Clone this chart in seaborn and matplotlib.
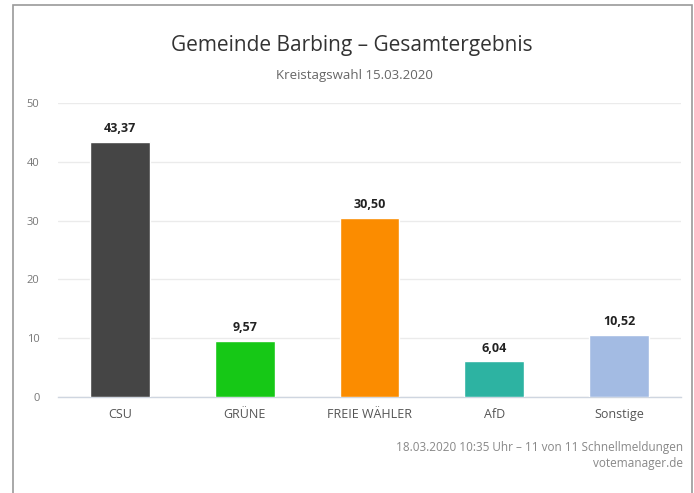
import matplotlib
matplotlib.use("Agg")
import matplotlib.pyplot as plt
import seaborn as sns
import pandas as pd
from matplotlib.patches import Rectangle

categories = ["CSU", "GRÜNE", "FREIE WÄHLER", "AfD", "Sonstige"]
values = [43.37, 9.57, 30.50, 6.04, 10.52]
value_labels = ["43,37", "9,57", "30,50", "6,04", "10,52"]
colors = ["#454545", "#16c816", "#fb8c00", "#2db3a2", "#a3bbe3"]
yticks = [0, 10, 20, 30, 40, 50]

sns.set_theme(style="white")
plt.rcParams['font.family'] = ['Open Sans', 'DejaVu Sans']

W, H = 694, 493
fig = plt.figure(figsize=(W / 100, H / 100), dpi=100)
fig.patch.set_facecolor("white")

# outer frame
fig.add_artist(Rectangle((13 / W, -0.05), (692 - 13) / W, (H - 5) / H + 0.05,
                         transform=fig.transFigure, fill=False,
                         edgecolor="#9a9a9a", linewidth=1.2))

left, right, top, bottom = 57.6, 681.4, 103, 397
ax = fig.add_axes([left / W, 1 - bottom / H, (right - left) / W, (bottom - top) / H])

df = pd.DataFrame({"cat": categories, "val": values})
sns.barplot(data=df, x="cat", y="val", hue="cat", palette=colors, legend=False,
            width=0.48, saturation=1, ax=ax, zorder=3)

ax.set_ylim(0, 50)
ax.set_xlim(-0.5, len(categories) - 0.5)
ax.set_yticks(yticks)
ax.set_yticklabels([str(t) for t in yticks], color="#777777", fontsize=8)
ax.tick_params(axis="y", length=0, pad=13)
ax.yaxis.grid(True, color="#ebebeb", linewidth=1, zorder=0)
ax.set_axisbelow(True)
for s in ["top", "right", "left"]:
    ax.spines[s].set_visible(False)
ax.spines["bottom"].set_color("#cfd6e0")
ax.spines["bottom"].set_linewidth(1)

ax.set_xticks(range(len(categories)))
ax.set_xticklabels(categories, color="#555555", fontsize=9)
ax.tick_params(axis="x", length=0, pad=8)
ax.set_xticks([i + 0.5 for i in range(-1, len(categories))], minor=True)
ax.tick_params(axis="x", which="minor", length=6, color="#cfd6e0", width=1)
ax.set_xlabel("")
ax.set_ylabel("")

for i, (v, lab) in enumerate(zip(values, value_labels)):
    ax.annotate(lab, (i, v), xytext=(0, 5), textcoords="offset points",
                ha="center", va="bottom", fontsize=9, fontweight="bold",
                color="#222222")

fig.text(352 / W, 1 - 45 / H, "Gemeinde Barbing – Gesamtergebnis",
         ha="center", va="center", fontsize=15, color="#333333")
fig.text(354 / W, 1 - 76 / H, "Kreistagswahl 15.03.2020",
         ha="center", va="center", fontsize=9.5, color="#666666")
fig.text(683 / W, 1 - 447 / H, "18.03.2020 10:35 Uhr – 11 von 11 Schnellmeldungen",
         ha="right", va="center", fontsize=8.5, color="#888888")
fig.text(683 / W, 1 - 464 / H, "votemanager.de",
         ha="right", va="center", fontsize=8.5, color="#888888")

fig.savefig("out.png", dpi=100, facecolor="white")
